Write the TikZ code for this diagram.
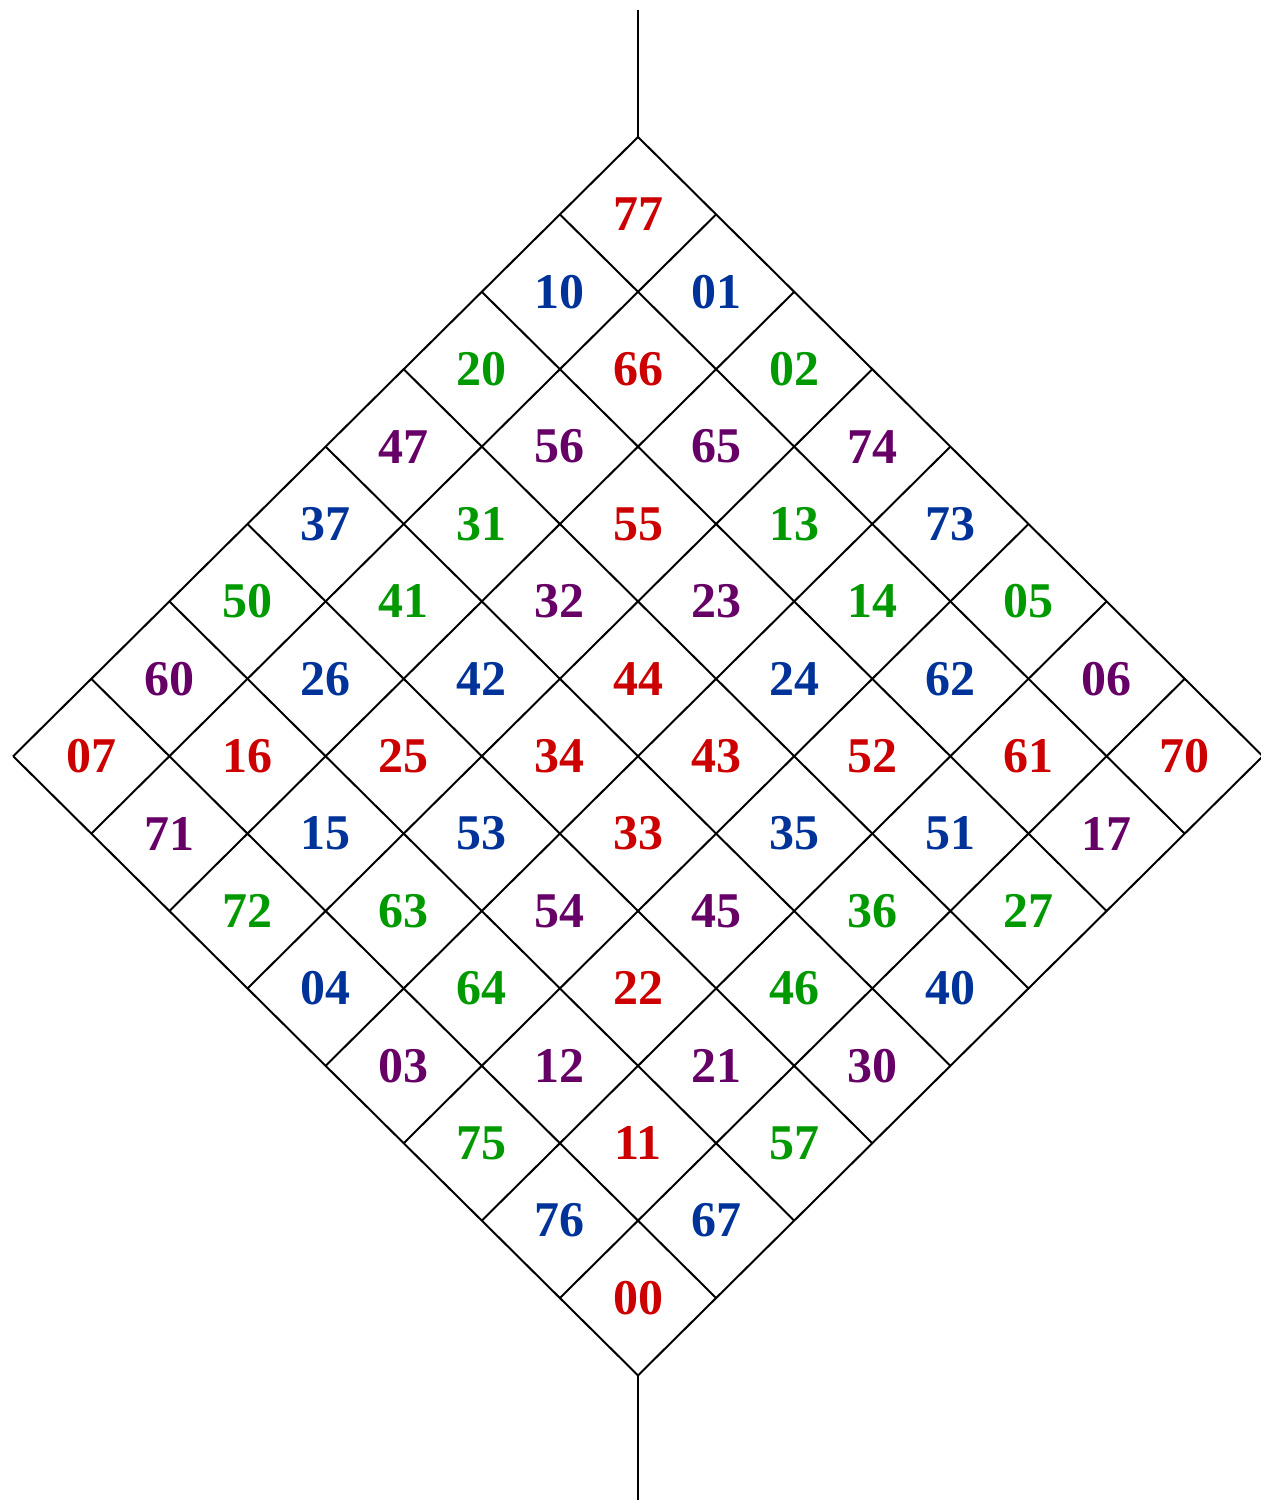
\documentclass[tikz,border=0pt]{standalone}
\usepackage{fontspec}
\setmainfont{Liberation Serif}
\definecolor{cr}{HTML}{CC0000}
\definecolor{cb}{HTML}{003399}
\definecolor{cg}{HTML}{009900}
\definecolor{cp}{HTML}{660066}
\tikzset{
  gridline/.style={line width=1pt, black},
  lab/.style={font=\fontsize{25}{30}\selectfont\bfseries, inner sep=0pt}
}
\begin{document}
\begin{tikzpicture}[x=0.5pt,y=-0.5pt]
\useasboundingbox (0,0) rectangle (1260,1500);
\foreach \a in {0,...,8}{
  \foreach \b in {0,...,8}{
    \coordinate (p\a-\b) at ({638+(\b-\a)*78.1},{137+(\a+\b)*77.4});
  }
}
\coordinate (topend) at (638,10);
\coordinate (botend) at (638,1500);
\foreach \a in {0,...,8}{
  \draw[gridline] (p\a-0) -- (p\a-8);
  \draw[gridline] (p0-\a) -- (p8-\a);
}
\draw[gridline] (topend) -- (p0-0);
\draw[gridline] (p8-8) -- (botend);
\foreach \row [count=\i from 0] in {
  {77/cr,01/cb,02/cg,74/cp,73/cb,05/cg,06/cp,70/cr},
  {10/cb,66/cr,65/cp,13/cg,14/cg,62/cb,61/cr,17/cp},
  {20/cg,56/cp,55/cr,23/cp,24/cb,52/cr,51/cb,27/cg},
  {47/cp,31/cg,32/cp,44/cr,43/cr,35/cb,36/cg,40/cb},
  {37/cb,41/cg,42/cb,34/cr,33/cr,45/cp,46/cg,30/cp},
  {50/cg,26/cb,25/cr,53/cb,54/cp,22/cr,21/cp,57/cg},
  {60/cp,16/cr,15/cb,63/cg,64/cg,12/cp,11/cr,67/cb},
  {07/cr,71/cp,72/cg,04/cb,03/cp,75/cg,76/cb,00/cr}}{
  \foreach \lab/\col [count=\j from 0] in \row {
    \node[lab, text=\col] (c\i\j) at ({638+(\j-\i)*78.1},{137+(\i+\j+1)*77.4}) {\lab};
  }
}
\end{tikzpicture}
\end{document}
